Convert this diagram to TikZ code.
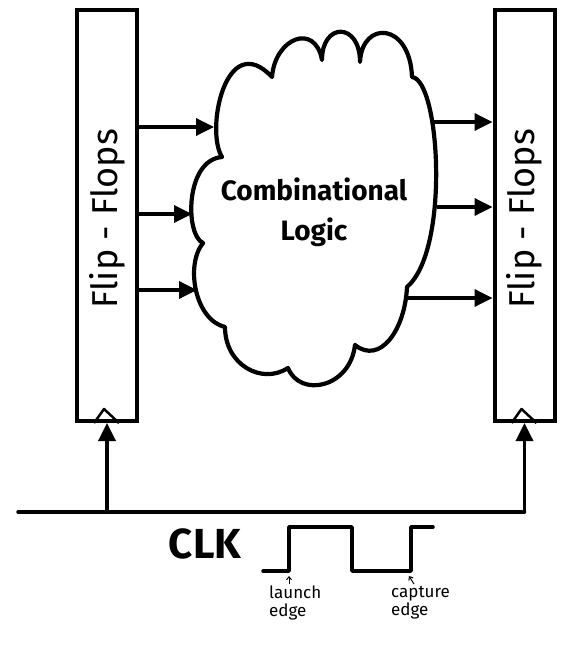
\documentclass[tikz,border=0pt]{standalone}
\usepackage{fontspec}
\setmainfont{Fira Sans}
\usetikzlibrary{arrows.meta,calc}
\begin{document}
\begin{tikzpicture}[x=1pt,y=-1pt,
  ffbox/.style={draw,line width=4pt,minimum width=60pt,minimum height=411pt,inner sep=0pt},
  fftext/.style={rotate=90,font=\fontsize{36}{40}\selectfont},
  conn/.style={line width=3.5pt,-{Triangle[length=18pt,width=17pt]}},
  wire/.style={line width=3.5pt,line join=round,line cap=round},
  clksym/.style={line width=2.5pt,line join=round},
  cloud/.style={line width=4.2pt,line join=round},
  note/.style={font=\fontsize{17}{18}\selectfont,align=left,inner sep=0pt},
  tiny/.style={line width=1pt,-{Straight Barb[length=3pt,width=5pt]}}]
\useasboundingbox (0,0) rectangle (568,647);

% flip-flop boxes
\node[ffbox] (ffL) at (107,215.5) {};
\node[ffbox] (ffR) at (524.5,215.5) {};
\node[fftext] (ffLtxt) at (107,219) {Flip - Flops};
\node[fftext] (ffRtxt) at (524.5,219) {Flip - Flops};

% clock symbols
\draw[clksym] ([xshift=-13pt]ffL.south) -- ++(10,-14) -- ++(15,14);
\draw[clksym] ([xshift=-13pt]ffR.south) -- ++(10,-14) -- ++(15,14);

% cloud
\draw[cloud] (222,157)
  .. controls (205,130) and (226,28) .. (272,77)
  .. controls (275,38) and (315,22) .. (322,60)
  .. controls (322,22) and (360,22) .. (360,62)
  .. controls (362,20) and (410,22) .. (412,77)
  .. controls (440,80) and (450,250) .. (407,287)
  .. controls (405,330) and (380,365) .. (355,345)
  .. controls (350,388) and (300,398) .. (288,368)
  .. controls (262,385) and (225,365) .. (225,327)
  .. controls (195,320) and (185,265) .. (203,243)
  .. controls (185,235) and (185,160) .. cycle;
\node[font=\bfseries\fontsize{28}{40}\selectfont,align=center] (logic) at (314,212) {Combinational\\Logic};

% cloud connection points
\coordinate (cin1) at (214,127);
\coordinate (cin2) at (192,214);
\coordinate (cin3) at (197,290);
\coordinate (cout1) at (432,122);
\coordinate (cout2) at (437,207);
\coordinate (cout3) at (404,298);

\draw[conn] (ffL.east |- cin1) -- (cin1);
\draw[conn] (ffL.east |- cin2) -- (cin2);
\draw[conn] (ffL.east |- cin3) -- (cin3);
\draw[conn] (cout1) -- (ffR.west |- cout1);
\draw[conn] (cout2) -- (ffR.west |- cout2);
\draw[conn] (cout3) -- (ffR.west |- cout3);

% clock distribution
\coordinate (clkA) at (18,512);
\coordinate (clkB) at (ffR.south |- clkA);
\draw[wire] (clkA) -- (clkB);
\draw[conn] (ffL.south |- clkA) -- (ffL.south);
\draw[conn] (clkB) -- (ffR.south);

% clock waveform
\node[font=\bfseries\fontsize{42}{44}\selectfont] (clk) at (205,544) {CLK};
\coordinate (w0) at (263,571);
\coordinate (wl) at (289,571);
\coordinate (wc) at (411,571);
\draw[wire] (w0) -- (wl) -- (289,527) -- (352,527) -- (352,571) -- (wc) -- (411,527) -- (433,527);

\node[note,anchor=north west] (launch) at (269,586) {launch\\edge};
\node[note,anchor=north west] (capture) at (391,586) {capture\\edge};
\draw[tiny] (launch.north west) ++(20,-2) -- ++(0,-8);
\draw[tiny] (capture.north west) ++(23,-2) -- ++(-5,-8);
\end{tikzpicture}
\end{document}
